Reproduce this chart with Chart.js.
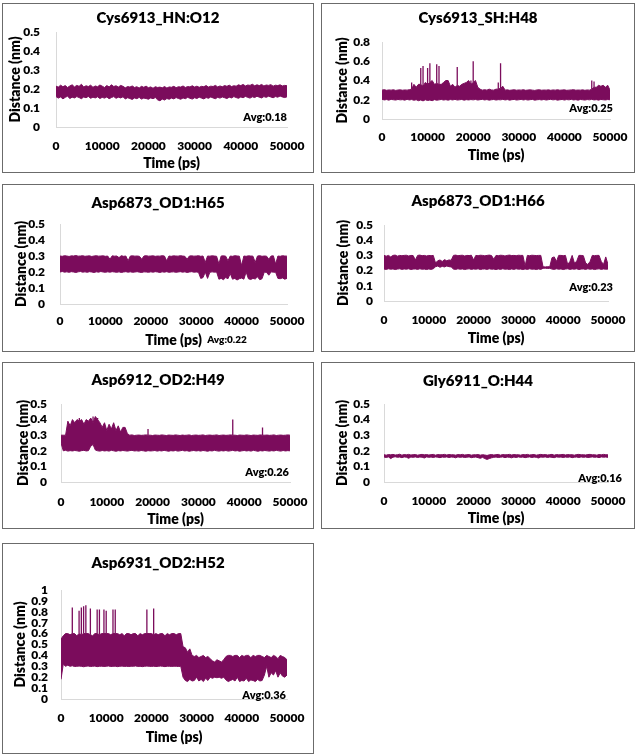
<!DOCTYPE html>
<html>
<head>
<meta charset="utf-8">
<script src="https://cdn.jsdelivr.net/npm/chart.js@4"></script>
<style>
  body { margin: 0; background: #fff; width: 637px; height: 756px; position: relative; overflow: hidden; }
  .panel { position: absolute; box-sizing: border-box; border: 1px solid #6b6b6b; }
  canvas { position: absolute; }
</style>
</head>
<body>
<script>
// ── Data ─────────────────────────────────────────────────────────────────────
// sampling grid: one value every 500 ps, 0 … 50000 ps
const timePs = [];
for (let t = 0; t <= 50000; t += 500) timePs.push(t);

const timeTicks = [0, 10000, 20000, 30000, 40000, 50000];
const yTicksHalf = [0, 0.1, 0.2, 0.3, 0.4, 0.5];
const yTicksEight = [0, 0.2, 0.4, 0.6, 0.8];
const yTicksOne = [0, 0.1, 0.2, 0.3, 0.4, 0.5, 0.6, 0.7, 0.8, 0.9, 1];

const titles = ['Cys6913_HN:O12', 'Cys6913_SH:H48', 'Asp6873_OD1:H65', 'Asp6873_OD1:H66',
                'Asp6912_OD2:H49', 'Gly6911_O:H44', 'Asp6931_OD2:H52'];
const averages = ['Avg:0.18', 'Avg:0.25', 'Avg:0.22', 'Avg:0.23', 'Avg:0.26', 'Avg:0.16', 'Avg:0.36'];

// upper / lower envelope of each distance trace (nm)
const hnO12Hi = [
  0.215,0.210,0.220,0.212,0.218,0.208,0.216,0.222,0.211,0.219,
  0.214,0.225,0.210,0.217,0.213,0.220,0.209,0.216,0.212,0.221,
  0.215,0.208,0.218,0.211,0.222,0.213,0.217,0.210,0.219,0.214,
  0.206,0.213,0.210,0.216,0.208,0.212,0.205,0.214,0.209,0.215,
  0.207,0.211,0.204,0.212,0.208,0.210,0.206,0.213,0.205,0.211,
  0.209,0.214,0.207,0.212,0.210,0.216,0.208,0.213,0.211,0.217,
  0.210,0.215,0.209,0.214,0.212,0.218,0.210,0.215,0.213,0.219,
  0.211,0.216,0.212,0.218,0.214,0.220,0.213,0.217,0.215,0.222,
  0.218,0.224,0.216,0.221,0.219,0.225,0.217,0.222,0.218,0.224,
  0.216,0.221,0.219,0.223,0.215,0.220,0.218,0.222,0.216,0.219,
  0.217];
const hnO12Lo = [
  0.160,0.152,0.158,0.148,0.156,0.162,0.150,0.157,0.153,0.160,
  0.155,0.149,0.158,0.154,0.161,0.151,0.157,0.153,0.159,0.150,
  0.156,0.152,0.158,0.149,0.155,0.160,0.151,0.157,0.153,0.159,
  0.148,0.154,0.150,0.145,0.153,0.149,0.156,0.147,0.152,0.150,
  0.146,0.153,0.149,0.155,0.143,0.138,0.147,0.142,0.150,0.146,
  0.152,0.148,0.155,0.150,0.146,0.153,0.149,0.156,0.151,0.147,
  0.154,0.150,0.157,0.152,0.148,0.155,0.151,0.158,0.153,0.149,
  0.156,0.152,0.158,0.154,0.150,0.157,0.153,0.160,0.155,0.151,
  0.158,0.154,0.161,0.156,0.152,0.159,0.155,0.162,0.157,0.153,
  0.160,0.156,0.162,0.158,0.154,0.160,0.157,0.163,0.158,0.155,
  0.159];

const shH48Hi = [
  0.300,0.305,0.298,0.302,0.300,0.304,0.297,0.301,0.303,0.299,
  0.302,0.300,0.305,0.310,0.360,0.330,0.360,0.360,0.340,0.380,
  0.360,0.380,0.400,0.360,0.370,0.360,0.360,0.380,0.400,0.400,
  0.340,0.360,0.330,0.350,0.340,0.360,0.370,0.380,0.400,0.360,
  0.380,0.400,0.330,0.310,0.300,0.305,0.300,0.310,0.302,0.300,
  0.310,0.310,0.320,0.340,0.300,0.303,0.298,0.301,0.304,0.299,
  0.302,0.300,0.305,0.298,0.301,0.303,0.300,0.297,0.302,0.304,
  0.299,0.301,0.300,0.303,0.298,0.302,0.300,0.304,0.299,0.301,
  0.303,0.298,0.300,0.302,0.305,0.299,0.301,0.300,0.303,0.298,
  0.302,0.300,0.310,0.330,0.330,0.350,0.340,0.350,0.330,0.350,
  0.300];
const shH48Lo = [
  0.205,0.198,0.202,0.196,0.204,0.200,0.197,0.203,0.199,0.201,
  0.196,0.204,0.198,0.202,0.195,0.200,0.190,0.198,0.188,0.200,
  0.192,0.197,0.190,0.201,0.195,0.199,0.203,0.197,0.201,0.196,
  0.202,0.198,0.204,0.197,0.200,0.203,0.196,0.201,0.198,0.202,
  0.199,0.203,0.197,0.201,0.204,0.198,0.202,0.196,0.200,0.203,
  0.197,0.201,0.199,0.204,0.198,0.202,0.196,0.201,0.203,0.197,
  0.200,0.204,0.198,0.202,0.197,0.201,0.203,0.196,0.200,0.202,
  0.198,0.203,0.197,0.201,0.204,0.199,0.202,0.196,0.200,0.203,
  0.197,0.202,0.199,0.204,0.198,0.201,0.196,0.203,0.200,0.197,
  0.202,0.199,0.204,0.198,0.201,0.196,0.203,0.200,0.198,0.202,
  0.200];
// isolated excursions: [time ps, peak nm]
const shH48Peaks = [[6500,0.38],[8500,0.53],[9000,0.55],[10000,0.53],[10500,0.58],[12000,0.57],
                    [12500,0.55],[16500,0.54],[19500,0.40],[20000,0.60],[25500,0.38],[26000,0.58],
                    [46000,0.40],[46500,0.39]];

const h65Hi = [
  0.300,0.298,0.302,0.300,0.297,0.301,0.300,0.303,0.299,0.300,
  0.302,0.298,0.300,0.301,0.297,0.300,0.302,0.299,0.300,0.301,
  0.298,0.300,0.280,0.301,0.299,0.300,0.290,0.302,0.298,0.300,
  0.270,0.300,0.301,0.299,0.300,0.298,0.280,0.300,0.302,0.299,
  0.300,0.301,0.298,0.300,0.299,0.302,0.300,0.270,0.300,0.298,
  0.301,0.300,0.299,0.302,0.300,0.298,0.280,0.300,0.301,0.299,
  0.300,0.302,0.298,0.300,0.260,0.300,0.299,0.301,0.300,0.298,
  0.250,0.300,0.301,0.299,0.270,0.300,0.298,0.302,0.300,0.299,
  0.240,0.300,0.298,0.301,0.300,0.299,0.260,0.300,0.302,0.298,
  0.300,0.299,0.280,0.300,0.301,0.250,0.300,0.298,0.302,0.300,
  0.299];
const h65Lo = [
  0.200,0.203,0.199,0.201,0.198,0.202,0.200,0.197,0.201,0.203,
  0.199,0.201,0.198,0.202,0.200,0.197,0.201,0.199,0.203,0.200,
  0.198,0.201,0.199,0.202,0.200,0.198,0.201,0.197,0.200,0.202,
  0.199,0.201,0.198,0.200,0.202,0.199,0.197,0.201,0.200,0.198,
  0.201,0.199,0.202,0.200,0.197,0.201,0.199,0.202,0.198,0.200,
  0.201,0.198,0.200,0.202,0.199,0.201,0.197,0.200,0.202,0.199,
  0.200,0.198,0.160,0.165,0.200,0.160,0.198,0.201,0.199,0.200,
  0.155,0.160,0.152,0.165,0.158,0.190,0.155,0.160,0.150,0.158,
  0.162,0.155,0.200,0.158,0.153,0.160,0.156,0.170,0.152,0.158,
  0.200,0.197,0.180,0.201,0.199,0.198,0.160,0.158,0.163,0.155,
  0.160];

const h66Hi = [
  0.300,0.295,0.300,0.290,0.300,0.302,0.295,0.300,0.298,0.300,
  0.301,0.296,0.300,0.299,0.270,0.300,0.302,0.298,0.300,0.296,
  0.300,0.298,0.300,0.250,0.265,0.270,0.260,0.272,0.265,0.270,
  0.268,0.300,0.302,0.298,0.300,0.301,0.296,0.300,0.299,0.301,
  0.270,0.300,0.298,0.301,0.300,0.297,0.300,0.302,0.299,0.275,
  0.300,0.298,0.301,0.300,0.296,0.300,0.302,0.299,0.300,0.298,
  0.301,0.300,0.300,0.230,0.300,0.298,0.301,0.300,0.299,0.300,
  0.300,0.225,0.224,0.226,0.225,0.285,0.290,0.260,0.300,0.300,
  0.298,0.300,0.240,0.260,0.300,0.250,0.260,0.300,0.300,0.298,
  0.250,0.240,0.260,0.300,0.298,0.300,0.300,0.260,0.240,0.290,
  0.240];
const h66Lo = [
  0.210,0.208,0.212,0.209,0.211,0.207,0.210,0.212,0.208,0.211,
  0.209,0.212,0.207,0.210,0.211,0.208,0.212,0.209,0.210,0.207,
  0.211,0.208,0.212,0.225,0.230,0.222,0.228,0.224,0.230,0.226,
  0.224,0.210,0.208,0.212,0.209,0.211,0.207,0.210,0.212,0.208,
  0.211,0.209,0.212,0.207,0.210,0.211,0.208,0.212,0.209,0.210,
  0.207,0.211,0.208,0.212,0.209,0.210,0.207,0.211,0.208,0.212,
  0.209,0.210,0.207,0.211,0.208,0.212,0.209,0.210,0.207,0.211,
  0.208,0.215,0.216,0.214,0.215,0.210,0.208,0.212,0.209,0.211,
  0.207,0.210,0.212,0.208,0.211,0.209,0.212,0.207,0.210,0.211,
  0.208,0.212,0.209,0.211,0.207,0.210,0.212,0.208,0.211,0.209,
  0.210];

const h49Hi = [
  0.300,0.300,0.300,0.390,0.360,0.400,0.380,0.400,0.390,0.400,
  0.370,0.400,0.390,0.410,0.380,0.420,0.400,0.380,0.350,0.380,
  0.330,0.370,0.340,0.380,0.330,0.360,0.320,0.350,0.350,0.310,
  0.300,0.302,0.298,0.300,0.301,0.299,0.300,0.302,0.300,0.300,
  0.298,0.301,0.300,0.299,0.302,0.300,0.298,0.301,0.300,0.299,
  0.302,0.300,0.298,0.301,0.299,0.300,0.302,0.298,0.300,0.301,
  0.299,0.300,0.302,0.298,0.300,0.301,0.299,0.300,0.302,0.298,
  0.300,0.301,0.299,0.300,0.302,0.300,0.300,0.298,0.301,0.300,
  0.299,0.302,0.300,0.298,0.301,0.300,0.299,0.302,0.300,0.300,
  0.301,0.299,0.300,0.302,0.298,0.300,0.301,0.299,0.300,0.302,
  0.300];
const h49Lo = [
  0.250,0.200,0.203,0.198,0.201,0.199,0.202,0.200,0.197,0.201,
  0.203,0.199,0.201,0.230,0.240,0.205,0.200,0.198,0.202,0.199,
  0.201,0.198,0.203,0.200,0.197,0.201,0.199,0.202,0.200,0.198,
  0.201,0.203,0.199,0.200,0.198,0.202,0.200,0.197,0.201,0.199,
  0.200,0.202,0.198,0.201,0.199,0.203,0.200,0.197,0.201,0.199,
  0.202,0.198,0.200,0.203,0.199,0.201,0.197,0.200,0.202,0.199,
  0.201,0.198,0.202,0.200,0.197,0.201,0.199,0.203,0.200,0.198,
  0.201,0.199,0.202,0.198,0.200,0.203,0.199,0.201,0.197,0.200,
  0.202,0.199,0.201,0.198,0.203,0.200,0.197,0.201,0.199,0.202,
  0.200,0.198,0.201,0.199,0.203,0.200,0.198,0.202,0.199,0.201,
  0.200];
const h49Peaks = [[2500,0.40],[4000,0.41],[7000,0.42],[8000,0.41],[9500,0.38],[11500,0.38],
                  [19000,0.34],[37500,0.40],[44000,0.35]];

const h44Hi = [
  0.175,0.172,0.176,0.174,0.177,0.173,0.175,0.178,0.172,0.176,
  0.174,0.177,0.173,0.175,0.176,0.172,0.175,0.177,0.174,0.176,
  0.173,0.175,0.177,0.172,0.176,0.174,0.175,0.177,0.173,0.176,
  0.174,0.175,0.172,0.176,0.174,0.177,0.173,0.175,0.176,0.172,
  0.175,0.174,0.176,0.172,0.175,0.173,0.170,0.174,0.176,0.173,
  0.175,0.177,0.172,0.176,0.174,0.175,0.177,0.173,0.176,0.174,
  0.175,0.172,0.176,0.174,0.177,0.173,0.175,0.176,0.172,0.175,
  0.177,0.174,0.176,0.173,0.175,0.177,0.172,0.176,0.174,0.175,
  0.177,0.173,0.176,0.174,0.175,0.172,0.176,0.177,0.174,0.175,
  0.173,0.176,0.177,0.174,0.175,0.172,0.176,0.174,0.177,0.175,
  0.174];
const h44Lo = [
  0.160,0.157,0.161,0.150,0.159,0.162,0.158,0.160,0.156,0.161,
  0.159,0.152,0.160,0.158,0.161,0.157,0.160,0.159,0.154,0.161,
  0.158,0.160,0.157,0.161,0.159,0.156,0.160,0.158,0.161,0.157,
  0.160,0.159,0.155,0.161,0.158,0.160,0.157,0.159,0.161,0.156,
  0.158,0.160,0.156,0.152,0.158,0.150,0.145,0.150,0.155,0.158,
  0.160,0.157,0.159,0.161,0.156,0.160,0.158,0.155,0.160,0.157,
  0.161,0.158,0.160,0.156,0.159,0.161,0.157,0.160,0.158,0.154,
  0.160,0.159,0.161,0.157,0.160,0.158,0.156,0.161,0.159,0.160,
  0.157,0.160,0.158,0.161,0.156,0.159,0.160,0.157,0.161,0.158,
  0.160,0.157,0.159,0.161,0.158,0.160,0.156,0.161,0.159,0.160,
  0.158];

const h52Hi = [
  0.550,0.580,0.600,0.600,0.590,0.600,0.600,0.580,0.600,0.590,
  0.600,0.600,0.600,0.590,0.580,0.600,0.600,0.590,0.600,0.600,
  0.600,0.600,0.590,0.600,0.600,0.600,0.590,0.600,0.580,0.600,
  0.600,0.590,0.600,0.600,0.580,0.600,0.590,0.600,0.600,0.600,
  0.600,0.590,0.600,0.590,0.600,0.600,0.580,0.600,0.590,0.600,
  0.600,0.590,0.600,0.600,0.480,0.470,0.430,0.460,0.400,0.390,
  0.400,0.380,0.390,0.400,0.380,0.390,0.370,0.350,0.340,0.360,
  0.350,0.340,0.360,0.390,0.400,0.400,0.390,0.400,0.400,0.380,
  0.400,0.390,0.400,0.400,0.380,0.400,0.390,0.400,0.400,0.390,
  0.380,0.400,0.390,0.380,0.400,0.390,0.370,0.400,0.390,0.380,
  0.360];
const h52Lo = [
  0.180,0.320,0.300,0.310,0.300,0.305,0.298,0.300,0.302,0.300,
  0.296,0.300,0.303,0.298,0.300,0.302,0.297,0.300,0.301,0.299,
  0.300,0.303,0.298,0.300,0.301,0.297,0.300,0.302,0.299,0.300,
  0.298,0.301,0.300,0.303,0.299,0.300,0.297,0.300,0.302,0.300,
  0.299,0.301,0.298,0.300,0.302,0.300,0.297,0.301,0.300,0.299,
  0.301,0.300,0.298,0.300,0.200,0.170,0.160,0.180,0.165,0.170,
  0.200,0.165,0.180,0.160,0.190,0.170,0.200,0.190,0.200,0.195,
  0.200,0.190,0.200,0.175,0.160,0.170,0.180,0.165,0.200,0.160,
  0.170,0.165,0.190,0.160,0.175,0.170,0.160,0.180,0.165,0.170,
  0.220,0.300,0.200,0.240,0.220,0.260,0.200,0.240,0.210,0.200,
  0.220];
const h52Peaks = [[2500,0.84],[4000,0.81],[4500,0.84],[5000,0.85],[5500,0.86],[6500,0.83],
                  [8000,0.82],[8500,0.82],[9500,0.82],[10000,0.81],[11500,0.82],[12000,0.82],
                  [19000,0.82],[20500,0.83]];

const upper = [hnO12Hi, shH48Hi, h65Hi, h66Hi, h49Hi, h44Hi, h52Hi];
const lower = [hnO12Lo, shH48Lo, h65Lo, h66Lo, h49Lo, h44Lo, h52Lo];
const peaks = [[], shH48Peaks, [], [], h49Peaks, [], h52Peaks];
const yTickSets = [yTicksHalf, yTicksEight, yTicksHalf, yTicksHalf, yTicksHalf, yTicksHalf, yTicksOne];

// ── Layout of each framed panel (page px) ───────────────────────────────────
// box, plot area L/R/T/B, centres of title / tick rows / axis titles, avg label
const layout = [
  { bx: 2,   by: 3,   bw: 312, bh: 170, L: 56,  R: 287, T: 32,  B: 127, title: 18,  yLab: 40,  xLab: 146, xTit: 163, yTit: 15,  avg: [287, 117, 'right', 11] },
  { bx: 321, by: 3,   bw: 314, bh: 170, L: 382, R: 610, T: 42,  B: 119, title: 18,  yLab: 370, xLab: 137, xTit: 155, yTit: 342, avg: [613, 108, 'right', 11] },
  { bx: 2,   by: 184, bw: 312, bh: 168, L: 60,  R: 287, T: 224, B: 304, title: 203, yLab: 45,  xLab: 321, xTit: 340, yTit: 21,  avg: [227, 340, 'center', 10] },
  { bx: 321, by: 184, bw: 314, bh: 168, L: 384, R: 608, T: 225, B: 301, title: 201, yLab: 373, xLab: 320, xTit: 338, yTit: 343, avg: [613, 287, 'right', 11] },
  { bx: 2,   by: 362, bw: 312, bh: 167, L: 61,  R: 290, T: 404, B: 482, title: 380, yLab: 47,  xLab: 502, xTit: 519, yTit: 23,  avg: [289, 472, 'right', 11] },
  { bx: 321, by: 362, bw: 314, bh: 167, L: 384, R: 608, T: 404, B: 482, title: 381, yLab: 370, xLab: 501, xTit: 518, yTit: 342, avg: [622, 478, 'right', 11] },
  { bx: 2,   by: 543, bw: 312, bh: 211, L: 61,  R: 287, T: 590, B: 699, title: 563, yLab: 48,  xLab: 718, xTit: 737, yTit: 20,  avg: [286, 695, 'right', 11] },
];

const LINE = '#7b0c5c';
const TITLE_PX = 15, TICK_PX = 12, AXIS_PX = 14;
const WEIGHT = 800;

Chart.defaults.font.family = 'Lato';
Chart.defaults.color = '#000';

// avg text written inside the plot
const avgLabel = {
  id: 'avgLabel',
  afterDraw(chart, args, o) {
    const ctx = chart.ctx;
    ctx.save();
    ctx.font = `${WEIGHT} ${o.size}px Lato`;
    ctx.fillStyle = '#000';
    ctx.textAlign = o.align;
    ctx.textBaseline = 'middle';
    ctx.fillText(o.text, o.x, o.y);
    ctx.restore();
  }
};

// vertical excursions rising from the upper edge of the band
function peakPoints(i) {
  const pts = [];
  peaks[i].forEach(([t, v]) => {
    const base = upper[i][timePs.indexOf(t)];
    pts.push({ x: t, y: base }, { x: t, y: v }, { x: t, y: null });
  });
  return pts;
}

function makePanel(i) {
  const g = layout[i];
  const box = document.createElement('div');
  box.className = 'panel';
  Object.assign(box.style, { left: g.bx + 'px', top: g.by + 'px', width: g.bw + 'px', height: g.bh + 'px' });
  document.body.appendChild(box);

  const cv = document.createElement('canvas');
  cv.width = g.bw; cv.height = g.bh;
  Object.assign(cv.style, { left: g.bx + 'px', top: g.by + 'px', width: g.bw + 'px', height: g.bh + 'px' });
  document.body.appendChild(cv);

  const tLh = TITLE_PX * 1.2, kLh = TICK_PX * 1.2, aLh = AXIS_PX * 1.2;
  const tPadTop = g.title - g.by - tLh / 2;
  const tPadBottom = (g.T - g.by) - tPadTop - tLh;
  const yTicks = yTickSets[i];

  new Chart(cv, {
    type: 'line',
    data: {
      datasets: [
        { data: upper[i].map((v, k) => ({ x: timePs[k], y: v })), borderColor: LINE, borderWidth: 1, pointRadius: 0, fill: false },
        { data: lower[i].map((v, k) => ({ x: timePs[k], y: v })), borderColor: LINE, borderWidth: 1, pointRadius: 0, fill: '-1', backgroundColor: LINE },
        { data: peakPoints(i), borderColor: LINE, borderWidth: 1.3, pointRadius: 0, fill: false, spanGaps: false },
      ]
    },
    options: {
      responsive: false,
      animation: false,
      devicePixelRatio: 1,
      layout: { padding: 0 },
      plugins: {
        legend: { display: false },
        tooltip: { enabled: false },
        title: {
          display: true, text: titles[i], color: '#000',
          font: { size: TITLE_PX, weight: WEIGHT },
          padding: { top: tPadTop, bottom: tPadBottom }
        },
        avgLabel: { text: averages[i], x: g.avg[0] - g.bx, y: g.avg[1] - g.by, align: g.avg[2], size: g.avg[3] }
      },
      scales: {
        x: {
          type: 'linear', min: 0, max: 50000,
          grid: { display: false, drawTicks: false },
          border: { display: true, color: '#d9d9d9' },
          afterBuildTicks: s => { s.ticks = timeTicks.map(v => ({ value: v })); },
          ticks: { autoSkip: false, maxRotation: 0, font: { size: TICK_PX, weight: WEIGHT },
                   padding: g.xLab - g.B - kLh / 2, callback: v => String(v) },
          title: { display: true, text: 'Time (ps)', font: { size: AXIS_PX, weight: WEIGHT },
                   padding: { top: 0, bottom: (g.by + g.bh) - g.xTit - aLh / 2 } },
          afterFit: s => { s.height = g.by + g.bh - g.B; s.paddingLeft = 0; s.paddingRight = 0; }
        },
        y: {
          min: 0, max: yTicks[yTicks.length - 1],
          grid: { display: false, drawTicks: false },
          border: { display: true, color: '#d9d9d9' },
          afterBuildTicks: s => { s.ticks = yTicks.map(v => ({ value: v })); },
          ticks: { autoSkip: false, font: { size: TICK_PX, weight: WEIGHT },
                   padding: g.L - g.yLab, callback: v => String(v) },
          title: { display: true, text: 'Distance (nm)', font: { size: AXIS_PX, weight: WEIGHT },
                   padding: { top: g.yTit - g.bx - aLh / 2, bottom: 0 } },
          afterFit: s => { s.width = g.L - g.bx; s.paddingTop = 0; s.paddingBottom = 0; }
        },
        y2: {
          position: 'right',
          grid: { display: false, drawTicks: false },
          border: { display: false },
          ticks: { display: false },
          afterFit: s => { s.width = g.bx + g.bw - g.R; s.paddingTop = 0; s.paddingBottom = 0; }
        }
      }
    },
    plugins: [avgLabel]
  });
}

for (let i = 0; i < layout.length; i++) makePanel(i);
</script>
</body>
</html>
